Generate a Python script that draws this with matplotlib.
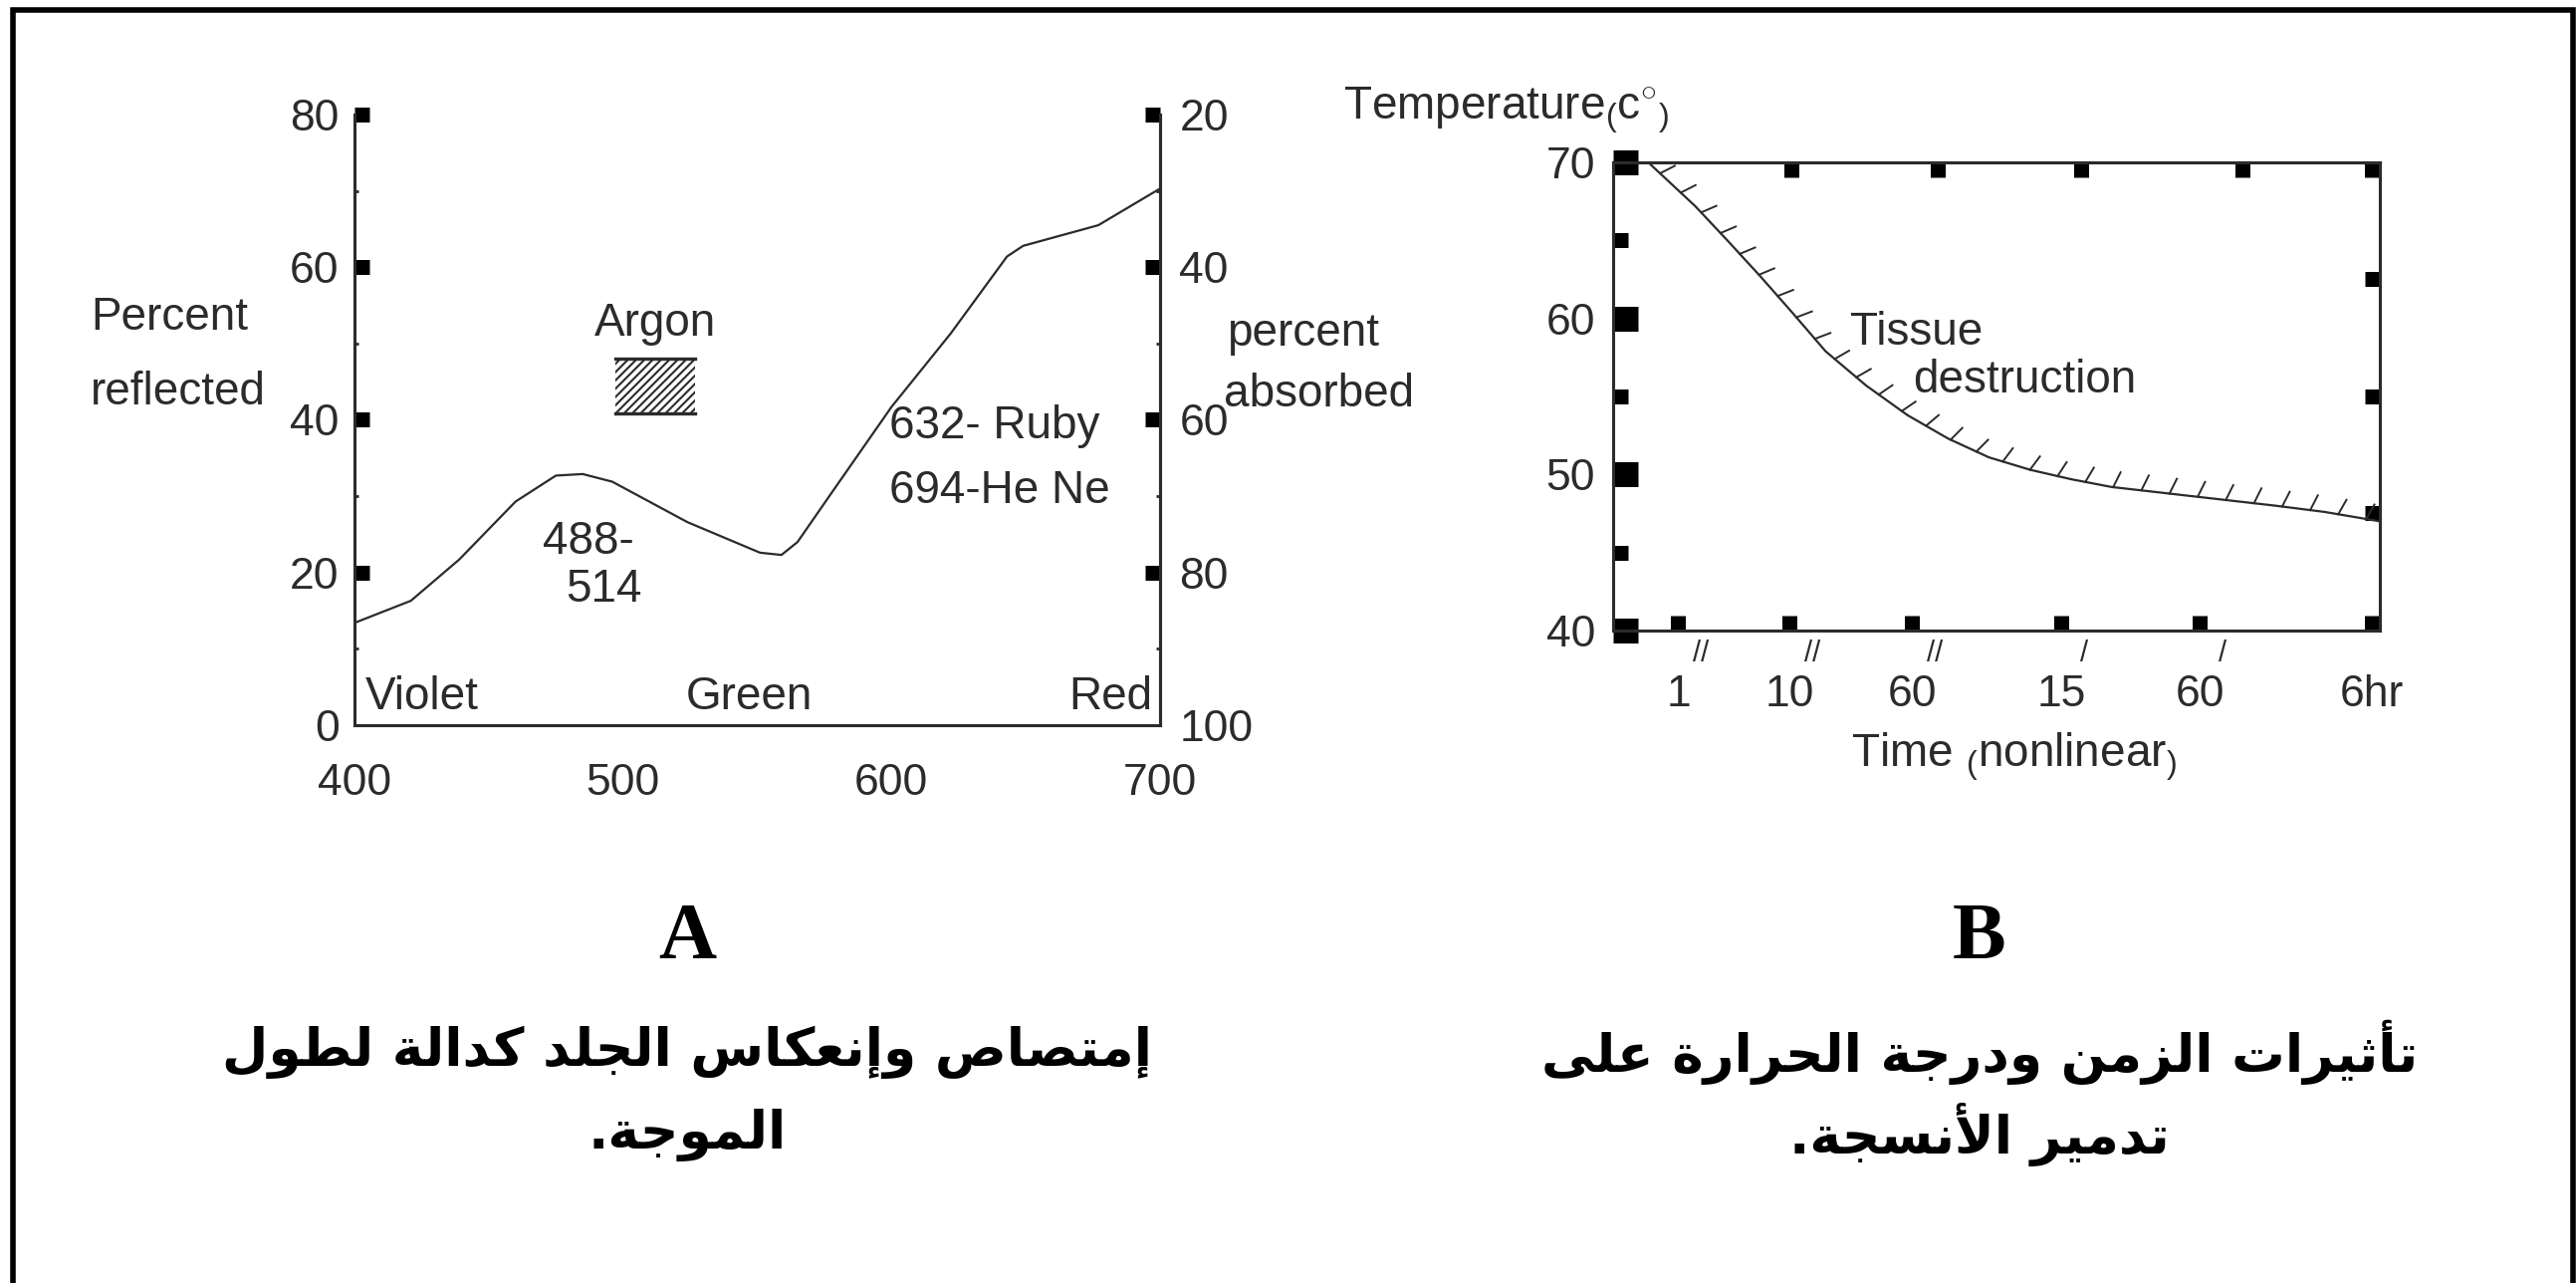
import matplotlib
matplotlib.use("Agg")
import matplotlib.pyplot as plt
import matplotlib.patheffects as pe
from matplotlib.patches import Rectangle
from matplotlib.transforms import blended_transform_factory

W, H = 2587, 1288
plt.rcParams['font.family'] = ['Liberation Sans', 'DejaVu Sans']
plt.rcParams['mathtext.fontset'] = 'custom'
plt.rcParams['mathtext.rm'] = 'Liberation Sans'
plt.rcParams['mathtext.it'] = 'Liberation Sans:italic'
plt.rcParams['hatch.linewidth'] = 1.5

ink = '#2b2b2b'

# ---- panel A: skin reflection / absorption vs wavelength ----
wavelength = [400, 421, 439, 460, 475, 485, 496, 524, 551, 559, 565, 578,
              600, 622, 643, 649, 677, 700]
reflected = [13.4, 16.3, 21.7, 29.3, 32.7, 32.9, 31.9, 26.6, 22.6, 22.3, 24.0,
             30.6, 41.7, 51.3, 61.4, 62.8, 65.5, 70.3]
a_xticks = [400, 500, 600, 700]
a_xsquares = [500, 600]
a_yticks = [0, 20, 40, 60, 80]
a_yminor = [10, 30, 50, 70]
a_absorbed_ticks = [20, 40, 60, 80, 100]
a_absorbed_minor = [30, 50, 70, 90]
argon_band = (497, 527, 40.8, 48.0)   # x0, x1, y0, y1

# ---- panel B: tissue destruction, temperature vs nonlinear time ----
time_pos = [0.48, 1.07, 1.49, 1.92, 2.35, 2.77, 3.30, 3.84, 4.37, 4.90, 5.44,
            5.97, 6.50, 7.57, 8.64, 9.28, 10.0]
temperature = [69.9, 67.2, 65.0, 62.7, 60.3, 57.9, 55.7, 53.8, 52.3, 51.1, 50.3,
               49.7, 49.2, 48.6, 48.0, 47.6, 47.0]
b_xticks = [0.85, 2.3, 3.9, 5.85, 7.65, 9.9]
b_xlabels = ['1', '10', '60', '15', '60', '6hr']
b_primes = ['//', '//', '//', '/', '/', '']
b_top_squares = [2.32, 4.23, 6.11, 8.21, 9.89]
b_yticks = [40, 50, 60, 70]
b_yminor = [45, 55, 65]
b_right_squares = [47.5, 55, 62.5]

caption_a = ["إمتصاص وإنعكاس الجلد كدالة لطول", "الموجة."]
caption_b = ["تأثيرات الزمن ودرجة الحرارة على", "تدمير الأنسجة."]


# simple Arabic shaping (presentation forms) + right-to-left order
FORMS = {
    'ا': (0xFE8D, 0xFE8E, None, None), 'أ': (0xFE83, 0xFE84, None, None),
    'إ': (0xFE87, 0xFE88, None, None), 'آ': (0xFE81, 0xFE82, None, None),
    'ب': (0xFE8F, 0xFE90, 0xFE91, 0xFE92), 'ة': (0xFE93, 0xFE94, None, None),
    'ت': (0xFE95, 0xFE96, 0xFE97, 0xFE98), 'ث': (0xFE99, 0xFE9A, 0xFE9B, 0xFE9C),
    'ج': (0xFE9D, 0xFE9E, 0xFE9F, 0xFEA0), 'ح': (0xFEA1, 0xFEA2, 0xFEA3, 0xFEA4),
    'خ': (0xFEA5, 0xFEA6, 0xFEA7, 0xFEA8), 'د': (0xFEA9, 0xFEAA, None, None),
    'ذ': (0xFEAB, 0xFEAC, None, None), 'ر': (0xFEAD, 0xFEAE, None, None),
    'ز': (0xFEAF, 0xFEB0, None, None), 'س': (0xFEB1, 0xFEB2, 0xFEB3, 0xFEB4),
    'ش': (0xFEB5, 0xFEB6, 0xFEB7, 0xFEB8), 'ص': (0xFEB9, 0xFEBA, 0xFEBB, 0xFEBC),
    'ض': (0xFEBD, 0xFEBE, 0xFEBF, 0xFEC0), 'ط': (0xFEC1, 0xFEC2, 0xFEC3, 0xFEC4),
    'ظ': (0xFEC5, 0xFEC6, 0xFEC7, 0xFEC8), 'ع': (0xFEC9, 0xFECA, 0xFECB, 0xFECC),
    'غ': (0xFECD, 0xFECE, 0xFECF, 0xFED0), 'ف': (0xFED1, 0xFED2, 0xFED3, 0xFED4),
    'ق': (0xFED5, 0xFED6, 0xFED7, 0xFED8), 'ك': (0xFED9, 0xFEDA, 0xFEDB, 0xFEDC),
    'ل': (0xFEDD, 0xFEDE, 0xFEDF, 0xFEE0), 'م': (0xFEE1, 0xFEE2, 0xFEE3, 0xFEE4),
    'ن': (0xFEE5, 0xFEE6, 0xFEE7, 0xFEE8), 'ه': (0xFEE9, 0xFEEA, 0xFEEB, 0xFEEC),
    'و': (0xFEED, 0xFEEE, None, None), 'ى': (0xFEEF, 0xFEF0, None, None),
    'ي': (0xFEF1, 0xFEF2, 0xFEF3, 0xFEF4),
}
LAM_ALEF = {'ا': (0xFEFB, 0xFEFC), 'أ': (0xFEF7, 0xFEF8),
            'إ': (0xFEF9, 0xFEFA), 'آ': (0xFEF5, 0xFEF6)}


def shape_arabic(text):
    out = []
    prev_joins = False
    i = 0
    while i < len(text):
        c = text[i]
        if c == 'ل' and i + 1 < len(text) and text[i + 1] in LAM_ALEF:
            iso, fin = LAM_ALEF[text[i + 1]]
            out.append(chr(fin if prev_joins else iso))
            prev_joins = False
            i += 2
            continue
        if c in FORMS:
            iso, fin, ini, med = FORMS[c]
            nxt = text[i + 1] if i + 1 < len(text) else ''
            joins_next = ini is not None and nxt in FORMS
            if prev_joins and joins_next:
                form = med
            elif prev_joins:
                form = fin
            elif joins_next:
                form = ini
            else:
                form = iso
            out.append(chr(form))
            prev_joins = joins_next
        else:
            out.append(c)
            prev_joins = False
        i += 1
    return ''.join(reversed(out))


fig = plt.figure(figsize=(W / 100, H / 100), dpi=100)
fig.patch.set_facecolor('white')

# outer frame (bottom edge runs off the picture)
fig.add_artist(Rectangle((13 / W, -0.05), (2584 - 13) / W, 1.05 - 10 / H,
                         transform=fig.transFigure, fill=False,
                         edgecolor='black', lw=4))

# ================= panel A =================
axA = fig.add_axes([356 / W, 1 - 728 / H, 809 / W, 613 / H])
axA.plot(wavelength, reflected, color=ink, lw=1.6)
axA.set_xlim(400, 700)
axA.set_ylim(0, 80)
axA.spines['top'].set_visible(False)
for s in ['left', 'bottom', 'right']:
    axA.spines[s].set_linewidth(2.2)
    axA.spines[s].set_color(ink)

axA.set_xticks(a_xticks)
axA.set_xticks(a_xsquares, minor=True)
axA.tick_params(axis='x', which='major', length=0, pad=27, labelsize=32,
                labelcolor=ink)
axA.tick_params(axis='x', which='minor', direction='in', length=10.8,
                width=10.8, color='black')
axA.set_yticks(a_yticks)
axA.set_yticks(a_yminor, minor=True)
axA.tick_params(axis='y', which='major', direction='in', length=10.8,
                width=10.8, color='black', pad=11, labelsize=32, labelcolor=ink)
axA.tick_params(axis='y', which='minor', direction='in', length=3, width=2,
                color=ink)
axA.yaxis.get_major_ticks()[0].tick1line.set_visible(False)

secA = axA.secondary_yaxis('right', functions=(lambda r: 100 - r,
                                               lambda a: 100 - a))
secA.set_yticks(a_absorbed_ticks)
secA.set_yticks(a_absorbed_minor, minor=True)
secA.spines['right'].set_linewidth(2.2)
secA.spines['right'].set_color(ink)
secA.tick_params(axis='y', which='major', direction='in', length=10.8,
                 width=10.8, color='black', pad=14, labelsize=32,
                 labelcolor=ink)
secA.tick_params(axis='y', which='minor', direction='in', length=3, width=2,
                 color=ink)
for t, v in zip(secA.yaxis.get_major_ticks(), a_absorbed_ticks):
    if v == 100:
        t.tick2line.set_visible(False)
        t.tick1line.set_visible(False)

x0, x1, y0, y1 = argon_band
axA.add_patch(Rectangle((x0, y0), x1 - x0, y1 - y0, facecolor='white',
                        edgecolor=ink, hatch='////', lw=0))
axA.plot([x0, x1], [y1, y1], color=ink, lw=2.4)
axA.plot([x0, x1], [y0, y0], color=ink, lw=2.4)

txt = dict(color=ink, fontsize=33)
axA.text(512, 52.6, 'Argon', ha='center', va='center', **txt)
axA.text(487, 24.0, '488-', ha='center', va='center', **txt)
axA.text(493, 17.7, '514', ha='center', va='center', **txt)
axA.text(599, 39.2, '632- Ruby', ha='left', va='center', **txt)
axA.text(599, 30.7, '694-He Ne', ha='left', va='center', **txt)
axA.text(404, 3.6, 'Violet', ha='left', va='center', **txt)
axA.text(547, 3.6, 'Green', ha='center', va='center', **txt)
axA.text(697, 3.6, 'Red', ha='right', va='center', **txt)

fig.text(91 / W, 1 - 319 / H, 'Percent', ha='left', va='center', **txt)
fig.text(91 / W, 1 - 394 / H, 'reflected', ha='left', va='center', **txt)
fig.text(1232 / W, 1 - 335 / H, 'percent', ha='left', va='center', **txt)
fig.text(1229 / W, 1 - 396 / H, 'absorbed', ha='left', va='center', **txt)

# ================= panel B =================
axB = fig.add_axes([1620 / W, 1 - 633 / H, 770 / W, 470 / H])
axB.plot(time_pos, temperature, color=ink, lw=1.6,
         path_effects=[pe.withTickedStroke(angle=70, spacing=20, length=0.6,
                                           linewidth=1.4)])
axB.set_xlim(0, 10)
axB.set_ylim(40, 70)
for s in axB.spines.values():
    s.set_linewidth(2.2)
    s.set_color(ink)

axB.set_xticks(b_xticks)
axB.set_xticklabels(b_xlabels)
axB.tick_params(axis='x', direction='in', length=10.8, width=10.8,
                color='black', pad=32, labelsize=32, labelcolor=ink)
axB.set_yticks(b_yticks)
axB.set_yticks(b_yminor, minor=True)
axB.tick_params(axis='y', which='major', direction='in', length=18, width=18,
                color='black', pad=13, labelsize=32, labelcolor=ink)
axB.tick_params(axis='y', which='minor', direction='in', length=10.8,
                width=10.8, color='black')

topB = axB.secondary_xaxis('top')
topB.set_xticks(b_top_squares)
topB.set_xticklabels([])
topB.tick_params(axis='x', direction='in', length=10.8, width=10.8,
                 color='black')
rightB = axB.secondary_yaxis('right')
rightB.set_yticks(b_right_squares)
rightB.set_yticklabels([])
rightB.tick_params(axis='y', direction='in', length=10.8, width=10.8,
                   color='black')
for sec in (topB, rightB):
    for s in sec.spines.values():
        s.set_linewidth(2.2)
        s.set_color(ink)

# second / minute marks between the ticks and their labels
blend = blended_transform_factory(axB.transData, axB.transAxes)
for pos, mark in zip(b_xticks, b_primes):
    axB.text(pos + 0.3, -0.048, mark, transform=blend, ha='center',
             va='center', color=ink, fontsize=21)

axB.text(3.09, 59.1, 'Tissue', ha='left', va='center', **txt)
axB.text(3.91, 56.0, 'destruction', ha='left', va='center', **txt)

fig.text(1349 / W, 1 - 111 / H,
         r'Temperature${}_{(}\mathrm{c}^{\circ}{}_{)}$',
         ha='left', va='center', **txt)
fig.text(2022 / W, 1 - 760 / H, r'Time ${}_{(}$nonlinear${}_{)}$',
         ha='center', va='center', **txt)

# ================= captions =================
cap = dict(ha='center', va='center', color='black')
fig.text(690 / W, 1 - 942 / H, 'A', family='Liberation Serif',
         weight='bold', fontsize=58, **cap)
fig.text(1988 / W, 1 - 942 / H, 'B', family='Liberation Serif',
         weight='bold', fontsize=58, **cap)
for k, line in enumerate(caption_a):
    fig.text(690 / W, 1 - (1056 + 83 * k) / H, shape_arabic(line),
             family='DejaVu Sans', weight='bold', fontsize=38.5, **cap)
for k, line in enumerate(caption_b):
    fig.text(1988 / W, 1 - (1056 + 83 * k) / H, shape_arabic(line),
             family='DejaVu Sans', weight='bold', fontsize=38.5, **cap)

fig.savefig('out.png', dpi=100, facecolor='white')
